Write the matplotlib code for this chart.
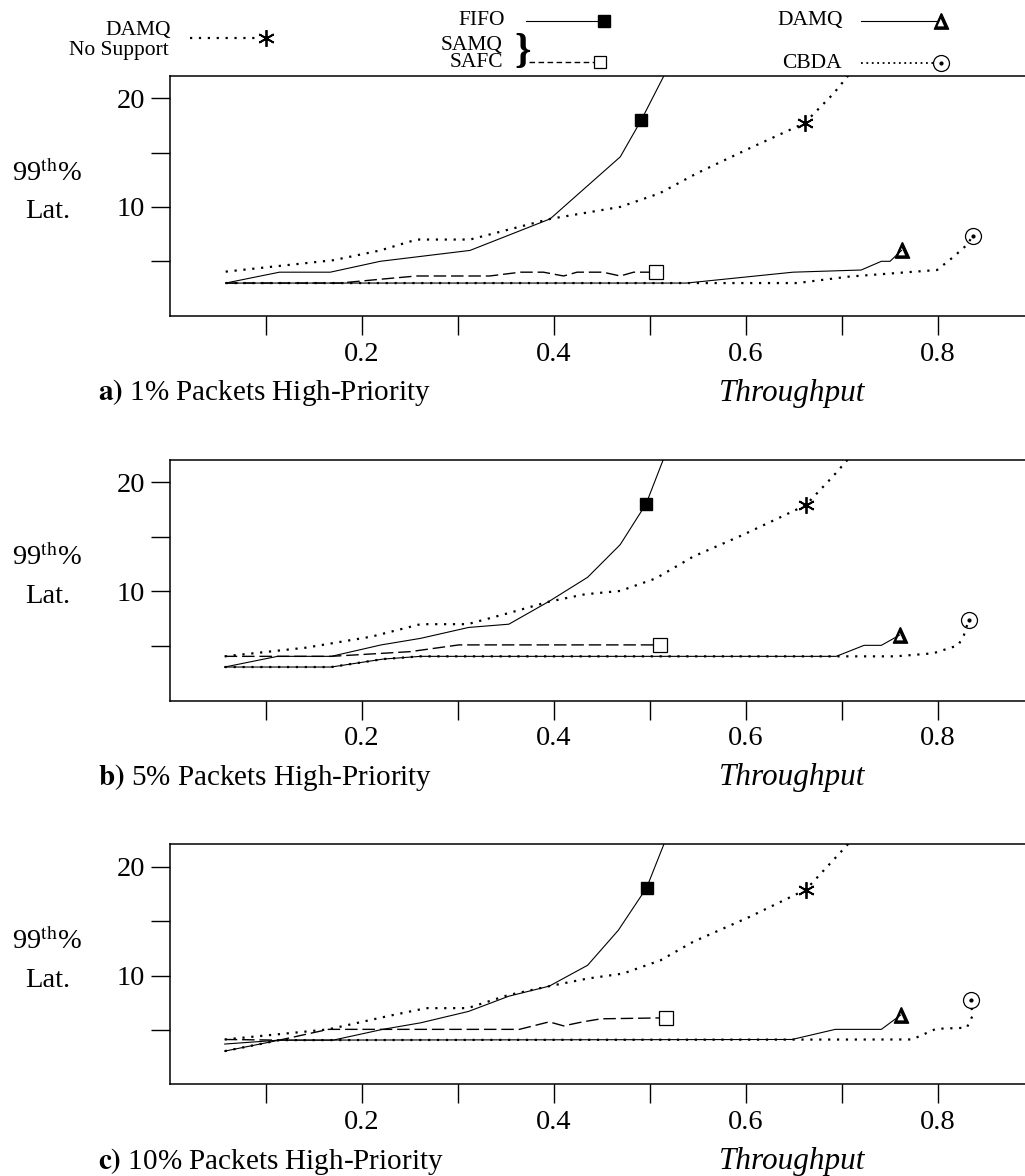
import matplotlib
matplotlib.use('Agg')
import matplotlib.pyplot as plt

plt.rcParams['font.family'] = ['Liberation Serif', 'DejaVu Serif']
plt.rcParams['mathtext.fontset'] = 'stix'

# ---------------- data (throughput, 99th percentile latency) ----------------
# panel a) 1% high priority
fifo_a_x = [0.058, 0.114, 0.167, 0.219, 0.3125, 0.396, 0.469, 0.491, 0.52]
fifo_a_y = [3.0, 4.0, 4.0, 5.0, 6.0, 8.9, 14.6, 18.0, 23.0]
nosup_a_x = [0.058, 0.170, 0.219, 0.257, 0.3125, 0.396, 0.469, 0.510, 0.549, 0.604, 0.661, 0.691, 0.715]
nosup_a_y = [4.05, 5.1, 6.0, 7.0, 7.0, 8.9, 10.0, 11.25, 13.1, 15.4, 17.7, 20.4, 23.0]
samq_a_x = [0.058, 0.177, 0.219, 0.257, 0.333, 0.365, 0.389, 0.41, 0.424, 0.451, 0.469, 0.483, 0.506]
samq_a_y = [3.0, 3.0, 3.35, 3.65, 3.65, 4.0, 4.0, 3.65, 4.0, 4.0, 3.65, 4.0, 4.0]
damq_a_x = [0.058, 0.538, 0.649, 0.720, 0.741, 0.75, 0.762]
damq_a_y = [3.0, 3.0, 4.0, 4.2, 5.0, 5.0, 6.0]
cbda_a_x = [0.058, 0.653, 0.708, 0.799, 0.816, 0.830, 0.836]
cbda_a_y = [3.0, 3.0, 3.6, 4.2, 5.4, 6.5, 7.3]

# panel b) 5% high priority
fifo_b_x = [0.057, 0.112, 0.168, 0.220, 0.261, 0.311, 0.353, 0.395, 0.435, 0.469, 0.496, 0.52]
fifo_b_y = [3.07, 4.05, 4.05, 5.1, 5.7, 6.7, 7.0, 9.1, 11.3, 14.3, 18.05, 23.5]
nosup_b_x = [0.057, 0.142, 0.21, 0.261, 0.31, 0.352, 0.395, 0.432, 0.469, 0.506, 0.545, 0.597, 0.662, 0.69, 0.715]
nosup_b_y = [4.05, 4.85, 5.86, 7.0, 7.0, 8.0, 9.07, 9.74, 10.05, 11.2, 13.2, 15.2, 17.9, 20.5, 23.0]
samq_b_x = [0.057, 0.168, 0.25, 0.301, 0.51]
samq_b_y = [4.05, 4.05, 4.48, 5.1, 5.1]
damq_b_x = [0.057, 0.168, 0.222, 0.261, 0.694, 0.723, 0.741, 0.76]
damq_b_y = [3.07, 3.07, 3.8, 4.05, 4.05, 5.06, 5.06, 6.0]
cbda_b_x = [0.057, 0.168, 0.222, 0.261, 0.756, 0.795, 0.821, 0.827, 0.832]
cbda_b_y = [3.07, 3.07, 3.8, 4.05, 4.05, 4.33, 5.06, 6.0, 7.38]

# panel c) 10% high priority
fifo_c_x = [0.057, 0.114, 0.170, 0.2216, 0.261, 0.311, 0.353, 0.395, 0.435, 0.467, 0.4965, 0.52]
fifo_c_y = [3.05, 4.06, 4.06, 5.05, 5.65, 6.7, 8.1, 9.02, 10.94, 14.16, 18.07, 23.3]
nosup_c_x = [0.057, 0.165, 0.227, 0.267, 0.31, 0.352, 0.395, 0.435, 0.472, 0.511, 0.545, 0.604, 0.6625, 0.705, 0.715]
nosup_c_y = [4.12, 5.05, 6.27, 7.0, 7.0, 8.19, 9.02, 9.72, 10.18, 11.4, 13.1, 15.4, 17.9, 21.95, 23.0]
samq_c_x = [0.057, 0.114, 0.165, 0.364, 0.395, 0.41, 0.43, 0.449, 0.517]
samq_c_y = [4.12, 4.06, 5.05, 5.05, 5.74, 5.37, 5.74, 6.02, 6.11]
damq_c_x = [0.057, 0.114, 0.648, 0.693, 0.741, 0.761]
damq_c_y = [3.7, 4.06, 4.12, 5.05, 5.05, 6.36]
cbda_c_x = [0.057, 0.114, 0.773, 0.798, 0.83, 0.836, 0.834]
cbda_c_y = [3.05, 4.06, 4.12, 5.1, 5.2, 6.3, 7.73]

captions = ["a)", "b)", "c)"]
caption_text = ["1% Packets High-Priority", "5% Packets High-Priority", "10% Packets High-Priority"]
x_ticks = [0.1, 0.2, 0.3, 0.4, 0.5, 0.6, 0.7, 0.8]
x_tick_labels = ["", "0.2", "", "0.4", "", "0.6", "", "0.8"]
y_ticks = [5, 10, 15, 20]
y_tick_labels = ["", "10", "", "20"]

# marker indices (the point carrying the symbol)
fifo_mark = [7, 10, 10]
nosup_mark = [10, 12, 12]

# ---------------- styles ----------------
DOT = dict(color='black', lw=1.6, linestyle=(0, (1, 3)))
DASH = dict(color='black', lw=1.0, linestyle=(0, (9, 3.5)))
SOLID = dict(color='black', lw=0.8, linestyle='-')
AST = dict(marker=(6, 2, 0), ms=12, mew=1.3, color='black', linestyle='none')

W, H = 1025, 1176
fig = plt.figure(figsize=(W / 100, H / 100), dpi=100)

tops = [75.7, 460.0, 844.3]
heights = [240.0, 240.5, 240.0]
left_px = 170.0

data = [
    (fifo_a_x, fifo_a_y, nosup_a_x, nosup_a_y, samq_a_x, samq_a_y, damq_a_x, damq_a_y, cbda_a_x, cbda_a_y),
    (fifo_b_x, fifo_b_y, nosup_b_x, nosup_b_y, samq_b_x, samq_b_y, damq_b_x, damq_b_y, cbda_b_x, cbda_b_y),
    (fifo_c_x, fifo_c_y, nosup_c_x, nosup_c_y, samq_c_x, samq_c_y, damq_c_x, damq_c_y, cbda_c_x, cbda_c_y),
]

for i in range(3):
    top, hh = tops[i], heights[i]
    ax = fig.add_axes([left_px / W, (H - top - hh) / H, (W - left_px) / W, hh / H])
    fx, fy, nx, ny, sx, sy, dx, dy, cx, cy = data[i]

    ax.plot(cx, cy, **DOT)
    ax.plot(cx[-1:], cy[-1:], 'o', ms=11.5, mfc='none', mec='black', mew=0.9)
    ax.plot(cx[-1:], cy[-1:], 'o', ms=2.0, color='black')

    ax.plot(dx, dy, **SOLID)
    ax.plot(dx[-1:], dy[-1:], marker=r'$\Delta$', ms=11, color='black', linestyle='none')

    ax.plot(sx, sy, **DASH)
    ax.plot(sx[-1:], sy[-1:], 's', ms=10, mfc='white', mec='black', mew=0.9)

    ax.plot(nx, ny, **DOT)
    ax.plot([nx[nosup_mark[i]]], [ny[nosup_mark[i]]], **AST)

    ax.plot(fx, fy, **SOLID)
    ax.plot([fx[fifo_mark[i]]], [fy[fifo_mark[i]]], 's', ms=8.5, color='black')

    ax.set_xlim(0, (W - left_px) / 960.0)
    ax.set_ylim(0, 22.06)
    ax.spines['right'].set_visible(False)
    for s in ['left', 'top', 'bottom']:
        ax.spines[s].set_linewidth(1.1)
    ax.set_xticks(x_ticks)
    ax.set_xticklabels(x_tick_labels)
    ax.set_yticks(y_ticks)
    ax.set_yticklabels(y_tick_labels)
    ax.tick_params(axis='both', direction='out', length=13.7, width=1.0, labelsize=20.5)
    ax.tick_params(axis='x', pad=5)
    ax.tick_params(axis='y', pad=4.3)

    ax.text((47 - left_px) / (W - left_px), (hh - (173 - 75.7)) / hh, r"99$^{\rm th}$%",
            transform=ax.transAxes, ha='center', va='center', fontsize=20.5)
    ax.text((48 - left_px) / (W - left_px), (hh - (212 - 75.7)) / hh, "Lat.",
            transform=ax.transAxes, ha='center', va='center', fontsize=20.5)

    ycap = -(393 - 315.7) / hh
    ax.text((98 - left_px) / (W - left_px), ycap,
            r"$\mathbf{" + captions[i] + "}$ " + caption_text[i],
            transform=ax.transAxes, ha='left', va='center', fontsize=21)
    ax.text((792 - left_px) / (W - left_px), ycap, "Throughput", style='italic',
            transform=ax.transAxes, ha='center', va='center', fontsize=22.5)

# ---------------- legend (drawn in pixel space of the figure) ----------------
lg = fig.add_axes([0, 0, 1, 1], zorder=-1)
lg.set_xlim(0, W)
lg.set_ylim(H, 0)
lg.axis('off')
LF = 15.5

lg.text(171, 31.0, "DAMQ", ha='right', va='center', fontsize=LF)
lg.text(169, 50.0, "No Support", ha='right', va='center', fontsize=LF)
lg.plot([190, 260], [38.3, 38.3], **DOT)
lg.plot([266], [38.3], **AST)

lg.text(505, 20.7, "FIFO", ha='right', va='center', fontsize=LF)
lg.plot([526, 604], [20.7, 20.7], **SOLID)
lg.plot([604], [20.7], 's', ms=8, color='black')

lg.text(503, 45.5, "SAMQ", ha='right', va='center', fontsize=LF)
lg.text(503, 62.5, "SAFC", ha='right', va='center', fontsize=LF)
lg.text(514, 52, "}", ha='left', va='center', fontsize=30, fontweight='bold')
lg.plot([529, 596], [62, 62], color='black', lw=1.0, linestyle=(0, (4, 2.5)))
lg.plot([600], [62], 's', ms=9, mfc='white', mec='black', mew=0.9)

lg.text(843, 20.7, "DAMQ", ha='right', va='center', fontsize=LF)
lg.plot([861, 938], [20.7, 20.7], **SOLID)
lg.plot([941], [20.7], marker=r'$\Delta$', ms=11, color='black', linestyle='none')

lg.text(842, 63.3, "CBDA", ha='right', va='center', fontsize=LF)
lg.plot([861, 934], [63.3, 63.3], color='black', lw=1.3, linestyle=(0, (1, 2)))
lg.plot([941], [63.3], 'o', ms=11.5, mfc='none', mec='black', mew=0.9)
lg.plot([941], [63.3], 'o', ms=2.0, color='black')

fig.savefig('out.png', dpi=100)
